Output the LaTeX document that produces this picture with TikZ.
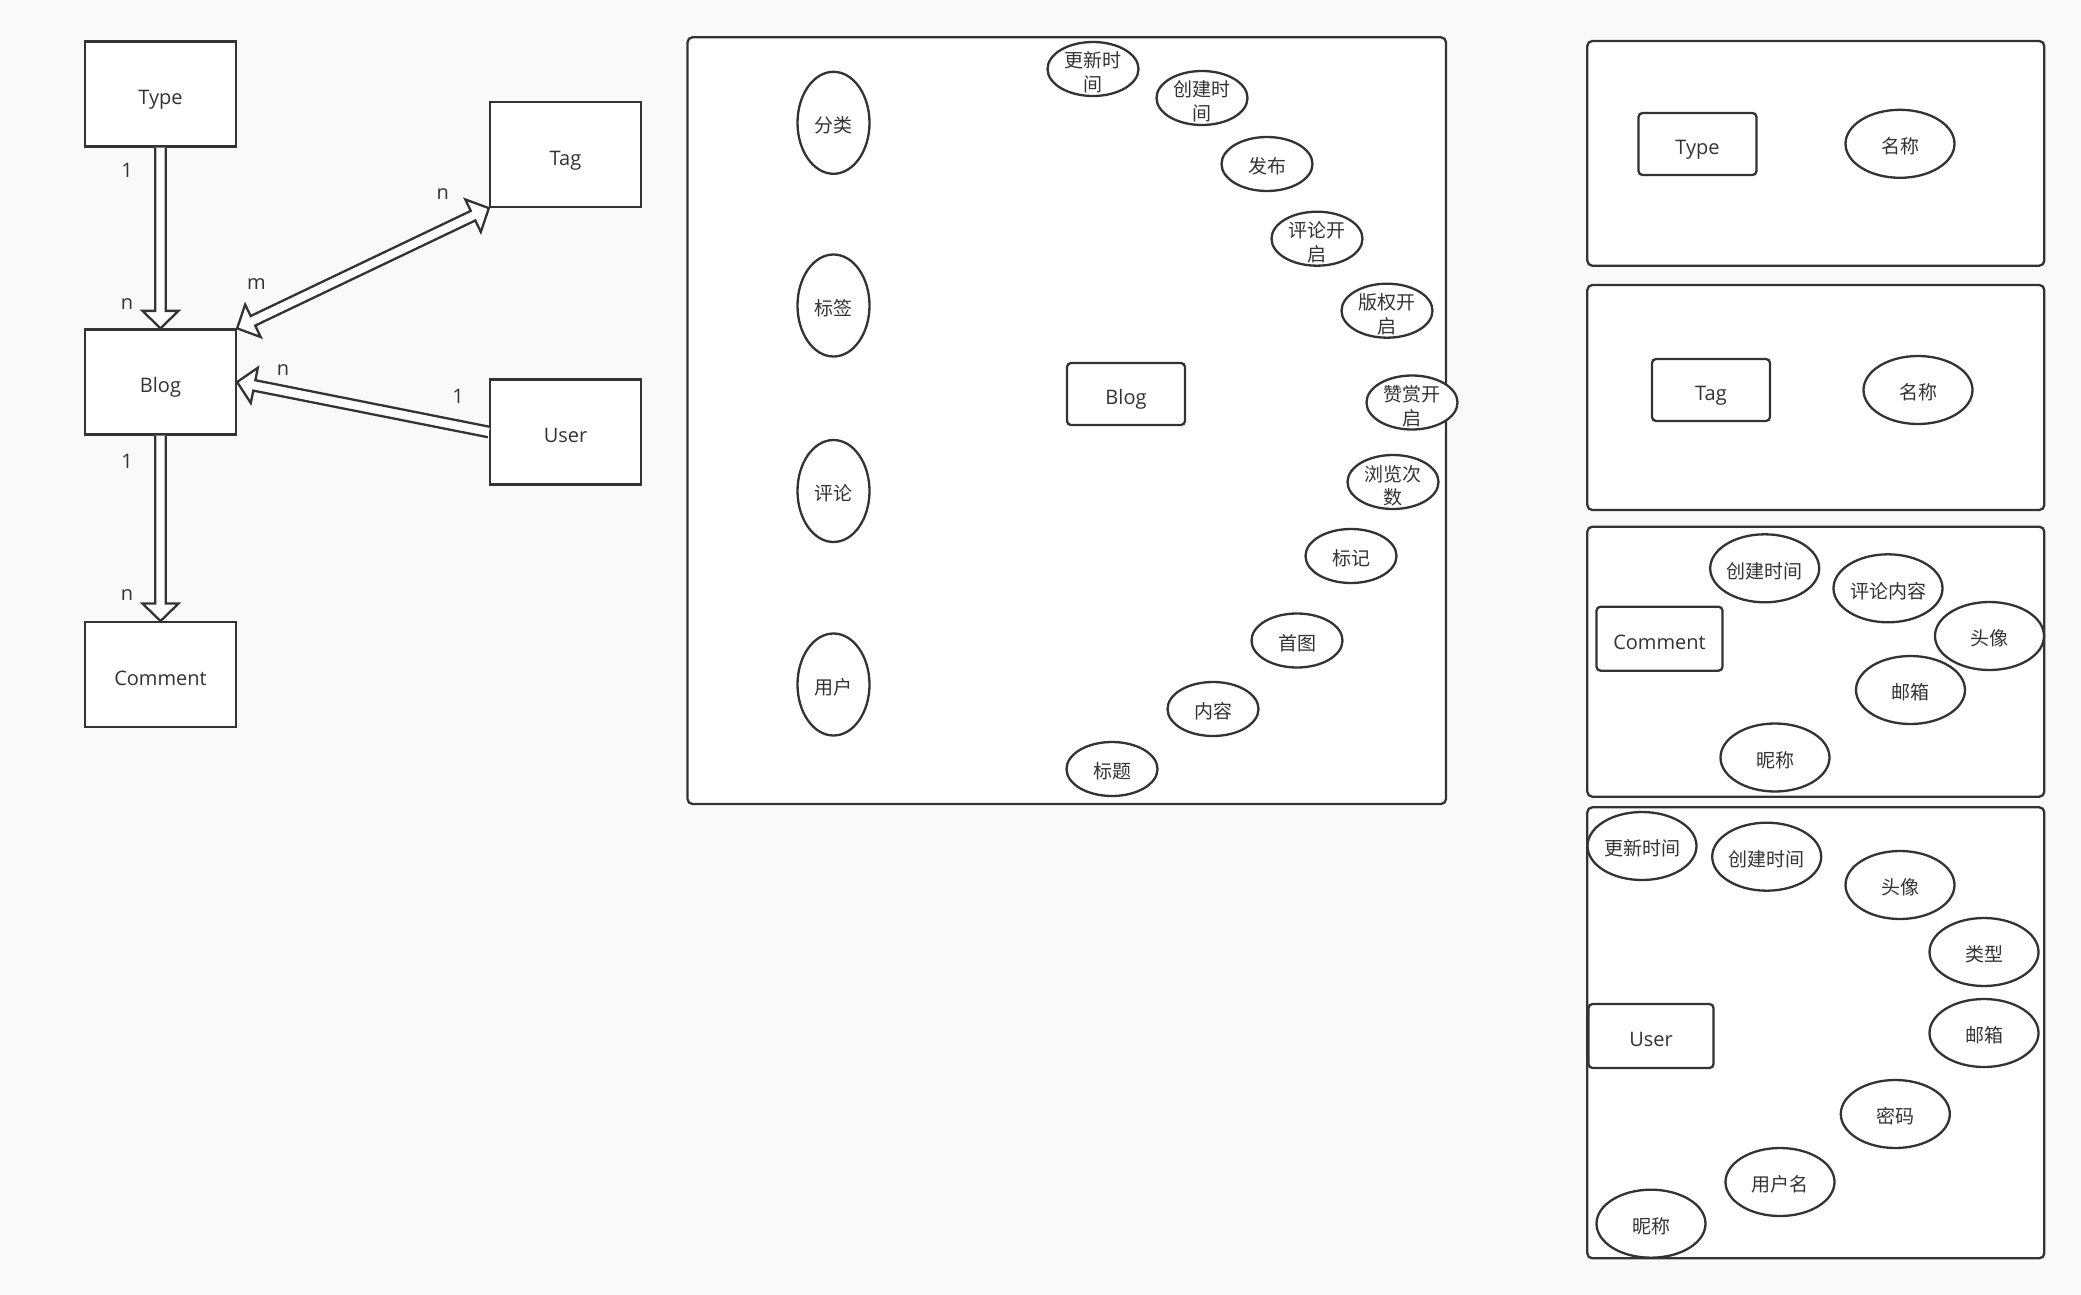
\documentclass[tikz,border=0pt]{standalone}
\usepackage{fontspec}
\setmainfont{Open Sans}
\newfontfamily\cjk{Noto Sans CJK SC}
\usetikzlibrary{shapes.geometric,calc}
\definecolor{ink}{RGB}{51,51,51}
\definecolor{bgc}{RGB}{249,249,249}
\tikzset{
 every node/.style={text=ink, font=\fontsize{20}{24}\selectfont},
 ent/.style={draw=ink, line width=2.3pt, fill=white, minimum width=151pt, minimum height=105pt, inner sep=0pt, text height=21pt, text depth=0pt},
 ebox/.style={draw=ink, line width=2.3pt, fill=white, rounded corners=4pt, inner sep=0pt, minimum width=118pt, minimum height=62pt, text height=21pt, text depth=0pt},
 frm/.style={draw=ink, line width=2.3pt, fill=white, rounded corners=5pt},
 attr/.style={ellipse, draw=ink, line width=2.3pt, fill=white, inner sep=0pt, minimum width=109pt, minimum height=68pt, font=\cjk\fontsize{19}{22.5}\selectfont, execute at begin node={\rule{0pt}{21pt}}},
 attrs/.style={attr, minimum width=91pt, minimum height=54pt},
 attrt/.style={attrs, execute at begin node={}},
 vattr/.style={attr, minimum width=72pt, minimum height=102pt},
 card/.style={font=\fontsize{20}{24}\selectfont, inner sep=0pt},
 flexst/.style={draw=ink, fill=white, line width=2.3pt, line join=miter},
}
% two centred lines, with a zero-size box so the ellipse stays put
\newcommand\twoln[2]{\smash{\lower12pt\vbox{\baselineskip=23.5pt\halign{\hfil##\hfil\cr#1\cr#2\cr}}}}
\newcommand\flexone[2]{%
 \path ($(#2)!17.5pt!(#1)$) coordinate (fc);
 \filldraw[flexst] ($(#1)!5.3pt!90:(#2)$) -- ($(fc)!5.3pt!-90:(#1)$) -- ($(fc)!18pt!-90:(#1)$) -- (#2) -- ($(fc)!18pt!90:(#1)$) -- ($(fc)!5.3pt!90:(#1)$) -- ($(#1)!5.3pt!-90:(#2)$);
}
\newcommand\flextwo[2]{%
 \path ($(#1)!17.5pt!(#2)$) coordinate (fa) ($(#2)!17.5pt!(#1)$) coordinate (fc);
 \filldraw[flexst] (#1) -- ($(fa)!18pt!90:(#2)$) -- ($(fa)!5.3pt!90:(#2)$) -- ($(fc)!5.3pt!-90:(#1)$) -- ($(fc)!18pt!-90:(#1)$) -- (#2) -- ($(fc)!18pt!90:(#1)$) -- ($(fc)!5.3pt!90:(#1)$) -- ($(fa)!5.3pt!-90:(#2)$) -- ($(fa)!18pt!-90:(#2)$) -- cycle;
}
\begin{document}
\begin{tikzpicture}[x=1pt,y=-1pt]
\fill[bgc] (0,0) rectangle (2081,1295);
\useasboundingbox (0,0) rectangle (2081,1295);

% ---------- left: relationships ----------
\node[ent] (type) at (160.5,94) {Type};
\node[ent] (tag) at (565.5,154.5) {Tag};
\node[ent] (blog) at (160.5,382) {Blog};
\node[ent] (user) at (565.5,432) {User};
\node[ent] (comment) at (160.5,674.7) {Comment};

\flexone{type.south}{blog.north}
\flexone{blog.south}{comment.north}
\flextwo{blog.north east}{tag.south west}
\flexone{user.west}{blog.east}

\node[card] (c1) at (127,170.6) {1};
\node[card] (c2) at (127,303.7) {n};
\node[card] (c3) at (442.7,193.6) {n};
\node[card] (c4) at (256.3,284) {m};
\node[card] (c5) at (283,370) {n};
\node[card] (c6) at (458,396.5) {1};
\node[card] (c7) at (127,461.7) {1};
\node[card] (c8) at (127,594.8) {n};

% ---------- middle: Blog ----------
\draw[frm] (687.5,37.3) rectangle (1446,804);
\node[vattr] (m1) at (833.5,122.8) {分类};
\node[vattr] (m2) at (833.5,305.5) {标签};
\node[vattr] (m3) at (833.5,491) {评论};
\node[vattr] (m4) at (833.5,684.5) {用户};
\node[ebox] (blogb) at (1126,394) {Blog};
\node[attrt] (b1) at (1093,69) {\twoln{更新时}{间}};
\node[attrt] (b2) at (1202,98) {\twoln{创建时}{间}};
\node[attrs] (b3) at (1267,164) {发布};
\node[attrt] (b4) at (1317,238.7) {\twoln{评论开}{启}};
\node[attrt] (b5) at (1387,310.7) {\twoln{版权开}{启}};
\node[attrt] (b6) at (1412,402.5) {\twoln{赞赏开}{启}};
\node[attrt] (b7) at (1393,482) {\twoln{浏览次}{数}};
\node[attrs] (b8) at (1351,556) {标记};
\node[attrs] (b9) at (1297,640.5) {首图};
\node[attrs] (b10) at (1213,709) {内容};
\node[attrs] (b11) at (1112,769) {标题};

% ---------- right: Type, Tag, Comment, User ----------
\draw[frm] (1587.3,41) rectangle (2044.3,265.7);
\draw[frm] (1587.3,285) rectangle (2044.3,510);
\draw[frm] (1587.3,526.7) rectangle (2044.3,796.7);
\draw[frm] (1587.3,807.3) rectangle (2044.3,1258.3);

\node[ebox] (typeb) at (1697.5,144) {Type};
\node[attr] (t1) at (1900,143.8) {名称};

\node[ebox] (tagb) at (1711,390) {Tag};
\node[attr] (g1) at (1918,390) {名称};

\node[ebox, minimum width=126pt, minimum height=64pt] (commentb) at (1659.5,638.7) {Comment};
\node[attr] (k1) at (1764.7,568.3) {创建时间};
\node[attr] (k2) at (1888,588.3) {评论内容};
\node[attr] (k3) at (1989.5,636) {头像};
\node[attr] (k4) at (1910.5,690) {邮箱};
\node[attr] (k5) at (1775,757.5) {昵称};

\node[ebox, minimum width=125pt, minimum height=64pt] (userb) at (1651,1036) {User};
\node[attr] (u1) at (1642,846) {更新时间};
\node[attr] (u2) at (1766.7,856.7) {创建时间};
\node[attr] (u3) at (1900,885) {头像};
\node[attr] (u4) at (1984,952) {类型};
\node[attr] (u5) at (1984,1033) {邮箱};
\node[attr] (u6) at (1895.3,1114) {密码};
\node[attr] (u7) at (1780,1182) {用户名};
\node[attr] (u8) at (1651,1223.7) {昵称};
\end{tikzpicture}
\end{document}
